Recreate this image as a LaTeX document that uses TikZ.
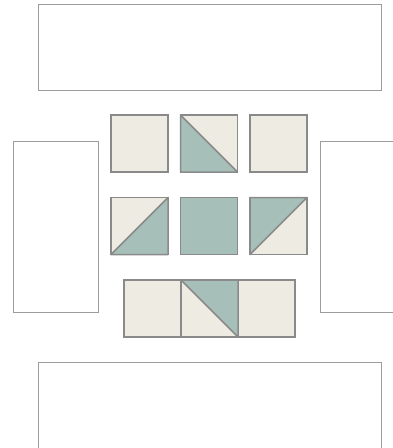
\documentclass[tikz,border=0pt]{standalone}
\usepackage{tikz}
\usetikzlibrary{positioning}
\definecolor{cream}{HTML}{EEEBE2}
\definecolor{sage}{HTML}{A6BFB8}
\definecolor{edge}{HTML}{8A8A8A}
\definecolor{frame}{HTML}{9C9C9C}
\tikzset{
  panel/.style={draw=frame,line width=1pt,fill=white,inner sep=0pt,outer sep=0pt},
  tile/.style={draw=edge,line width=1.5pt,fill=cream,minimum size=57pt,inner sep=0pt,outer sep=0pt},
  half/.style={draw=edge,fill=sage,line width=1.5pt,line join=round},
}

\begin{document}
\begin{tikzpicture}[x=1pt,y=-1pt,node distance=12.5pt]
\useasboundingbox (0,0) rectangle (392,448);
% empty frames round the tiles
\node[panel,minimum width=343pt,minimum height=86pt] (top) at (209.5,47) {};
\node[panel,minimum width=85.5pt,minimum height=171pt] (left) at (55.75,226.5) {};
\node[panel,minimum width=85.5pt,minimum height=171pt] (right) at (362.75,226.5) {};
\node[panel,minimum width=343pt,minimum height=88pt] (bottom) at (209.5,406) {};
% first row
\node[tile] (r1a) at (139.5,143.5) {};
\node[tile,right=of r1a] (r1b) {};
\node[tile,right=of r1b] (r1c) {};
\filldraw[half] (r1b.north west) -- (r1b.south west) -- (r1b.south east) -- cycle;
% second row
\node[tile] (r2a) at (139.5,226) {};
\node[tile,fill=sage,right=of r2a] (r2b) {};
\node[tile,right=of r2b] (r2c) {};
\filldraw[half] (r2a.south west) -- (r2a.south east) -- (r2a.north east) -- cycle;
\filldraw[half] (r2c.south west) -- (r2c.north west) -- (r2c.north east) -- cycle;
% third row, tiles touching
\node[tile] (r3a) at (152.5,308.5) {};
\node[tile,right=0pt of r3a] (r3b) {};
\node[tile,right=0pt of r3b] (r3c) {};
\filldraw[half] (r3b.north west) -- (r3b.north east) -- (r3b.south east) -- cycle;
\end{tikzpicture}
\end{document}
